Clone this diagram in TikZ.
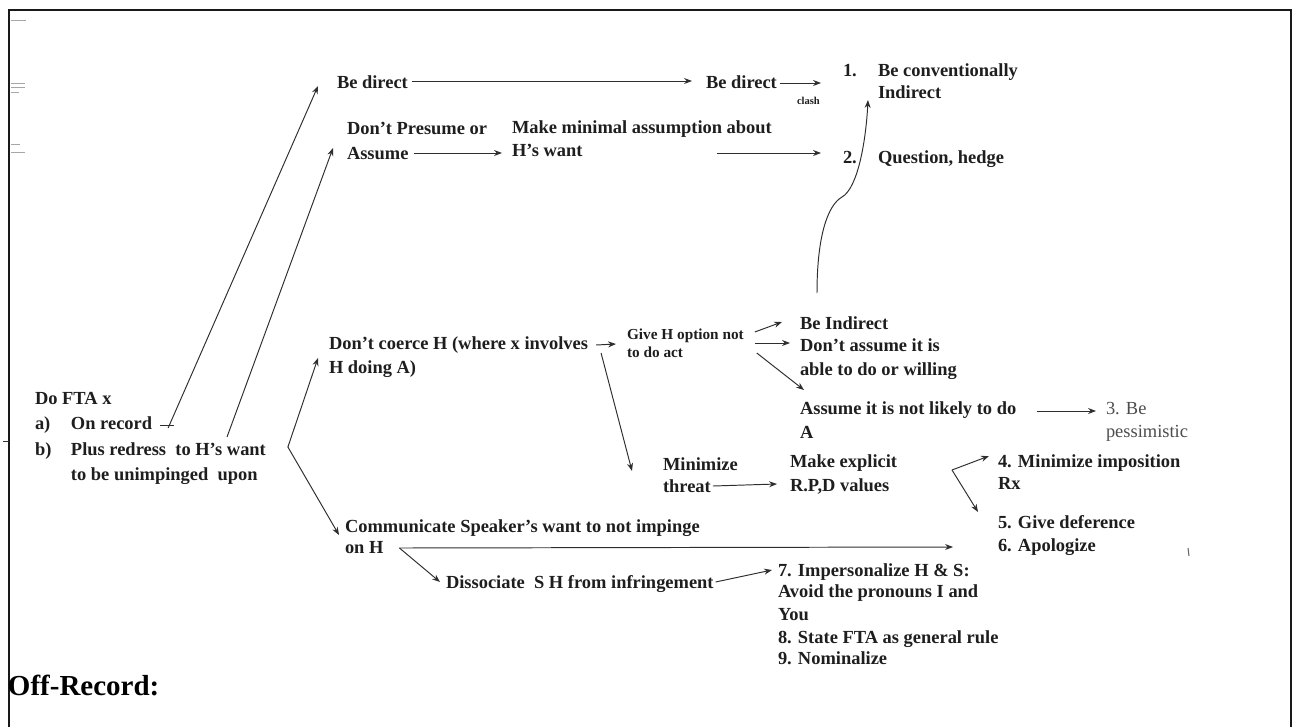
\documentclass[tikz,border=0pt]{standalone}
\usepackage{fontspec}
\setmainfont{Liberation Serif}
\usetikzlibrary{arrows.meta,calc}
\definecolor{ink}{HTML}{1E1E1E}
\definecolor{lin}{HTML}{2E2E2E}
\begin{document}
\begin{tikzpicture}[x=0.02cm,y=-0.02cm,
  lbl/.style={anchor=base west,inner sep=0pt,outer sep=0pt,text=ink,font=\fontsize{10.5}{12}\selectfont\bfseries},
  sml/.style={lbl,font=\fontsize{8.7}{10}\selectfont\bfseries},
  tinylbl/.style={lbl,font=\fontsize{6}{7}\selectfont\bfseries},
  plainlbl/.style={lbl,font=\fontsize{10.5}{12}\selectfont,text=black!70},
  biglbl/.style={lbl,font=\fontsize{16.5}{19}\selectfont\bfseries,text=black},
  con/.style={draw=lin,line width=0.55pt},
  arr/.style={con,-{Stealth[length=4.5pt,width=3.4pt]}},
  smudge/.style={draw=black!35,line width=0.5pt}
]
\useasboundingbox (0,0) rectangle (1292,727);
% frame
\draw[line width=1.2pt,black!90] (9,727) -- (9,10) -- (1291,10) -- (1291,727);
% stray marks of the scan
\draw[smudge] (11,20) -- (26,20);
\draw[smudge] (11,83) -- (25,83);
\draw[smudge] (11,87) -- (25,87);
\draw[smudge] (11,92) -- (19,92);
\draw[smudge] (11,144) -- (20,144);
\draw[smudge] (11,152) -- (25,152);
\draw[line width=0.5pt,black!80] (3,441) -- (9,441);
\draw[line width=0.6pt,black!60] (1188,548) -- (1189,556);

% ---------- left block
\node[lbl] (do) at (35,404) {Do FTA x};
\node[lbl] (a) at (35,429) {a)};
\node[lbl] (onr) at (71,429) {On record};
\node[lbl] (b) at (35,455) {b)};
\node[lbl] (pr1) at (71,455) {Plus redress~ to H’s want};
\node[lbl] (pr2) at (71,480) {to be unimpinged~ upon};

% ---------- top
\node[lbl] (bd1) at (337,88) {Be direct};
\node[lbl] (bd2) at (706,88) {Be direct};
\node[tinylbl] (clash) at (797,104) {clash};
\node[lbl] (n1) at (843,76) {1.};
\node[lbl] (bc1) at (878,76) {Be conventionally};
\node[lbl] (bc2) at (878,98) {Indirect};
\node[lbl] (dp1) at (347,134) {Don’t Presume or};
\node[lbl] (dp2) at (347,159) {Assume};
\node[lbl] (mm1) at (512,133) {Make minimal assumption about};
\node[lbl] (mm2) at (512,156) {H’s want};
\node[lbl] (n2) at (843,163) {2.};
\node[lbl] (qh) at (878,163) {Question, hedge};

% ---------- middle
\node[lbl] (dc1) at (329,349) {Don’t coerce H (where x involves};
\node[lbl] (dc2) at (329,373) {H doing A)};
\node[sml] (gh1) at (627,339) {Give H option not};
\node[sml] (gh2) at (627,357) {to do act};
\node[lbl] (bi) at (800,329) {Be Indirect};
\node[lbl] (da1) at (800,351) {Don’t assume it is};
\node[lbl] (da2) at (800,375) {able to do or willing};
\node[lbl] (as1) at (800,414) {Assume it is not likely to do};
\node[lbl] (as2) at (800,438) {A};
\node[plainlbl] (pe1) at (1106,414) {3. Be};
\node[plainlbl] (pe2) at (1106,437) {pessimistic};
\node[lbl] (mt1) at (663,470) {Minimize};
\node[lbl] (mt2) at (663,492) {threat};
\node[lbl] (me1) at (790,467) {Make explicit};
\node[lbl] (me2) at (790,491) {R.P,D values};
\node[lbl] (mi1) at (998,467) {4. Minimize imposition};
\node[lbl] (mi2) at (998,489) {Rx};
\node[lbl] (gd) at (998,528) {5. Give deference};
\node[lbl] (ap) at (998,551) {6. Apologize};

% ---------- bottom
\node[lbl] (cs1) at (345,532) {Communicate Speaker’s want to not impinge};
\node[lbl] (cs2) at (345,553) {on H};
\node[lbl] (ds) at (446,588) {Dissociate~ S H from infringement};
\node[lbl] (ip1) at (778,576) {7. Impersonalize H \& S:};
\node[lbl] (ip2) at (778,597) {Avoid the pronouns I and};
\node[lbl] (ip3) at (778,620) {You};
\node[lbl] (ip4) at (778,643) {8. State FTA as general rule};
\node[lbl] (ip5) at (778,664) {9. Nominalize};
\node[biglbl] (off) at (8,695) {Off-Record:};

% ---------- connectors
\draw[con] ($(onr.base east)+(8,-4)$) -- ++(14,0);
\draw[arr] ($(onr.base east)+(16,-1)$) -- ($(bd1.base west)+(-19,-2)$);
\draw[arr] ($(pr1.base west)+(156,-18)$) -- ($(dp2.base west)+(-14,-11)$);
\coordinate (v1) at ($(pr1.base east)+(22,-8)$);
\draw[arr] (v1) -- ($(dc2.base west)+(-11,-15)$);
\draw[arr] (v1) -- ($(cs1.base west)+(-6,3)$);

\draw[arr] ($(bd1.base east)+(4,-7)$) -- ($(bd2.base west)+(-14,-7)$);
\draw[arr] ($(bd2.base east)+(3,-5)$) -- ($(n1.base west)+(-22,7)$);
\draw[arr] ($(dp2.base east)+(5,-6)$) -- ($(mm2.base west)+(-10,-3)$);
\coordinate (mmfree) at ($(n2.base west)+(-126,-10)$);
\draw[arr] (mmfree) -- ($(n2.base west)+(-22,-10)$);

\coordinate (cv) at ($(bi.base west)+(17,-36)$);
\draw[arr] (cv) .. controls ($(cv)+(0,-58)$) and ($(cv)+(11,-88)$) .. ($(cv)+(25,-96)$)
  .. controls ($(cv)+(41,-105)$) and ($(cv)+(49,-153)$) .. ($(bc2.base west)+(-10,2)$);

\draw[arr] ($(dc1.base east)+(8,-4)$) -- ($(gh1.base west)+(-11,5)$);
\draw[arr] ($(dc1.base east)+(13,4)$) -- ($(mt1.base west)+(-31,1)$);
\draw[arr] ($(gh1.base east)+(11,-7)$) -- ($(bi.base west)+(-18,-7)$);
\draw[arr] ($(gh1.base east)+(11,4)$) -- ($(da1.base west)+(-10,-8)$);
\draw[arr] ($(gh1.base east)+(13,14)$) -- ($(as1.base west)+(4,-24)$);
\draw[arr] ($(as1.base east)+(21,-3)$) -- ($(pe1.base west)+(-10,-3)$);
\draw[arr] ($(mt2.base east)+(2,-6)$) -- ($(me2.base west)+(-13,-7)$);

\coordinate (v2) at ($(mi1.base west)+(-46,3)$);
\draw[arr] (v2) -- ($(mi1.base west)+(-9,-11)$);
\draw[arr] (v2) -- ($(gd.base west)+(-20,-16)$);

\coordinate (v3) at ($(cs2.base east)+(16,-5)$);
\draw[arr] (v3) -- ($(ap.base west)+(-45,-4)$);
\draw[arr] (v3) -- ($(ds.base west)+(-6,-6)$);
\draw[arr] ($(ds.base east)+(2,-6)$) -- ($(ip1.base west)+(-6,-6)$);
\end{tikzpicture}
\end{document}
